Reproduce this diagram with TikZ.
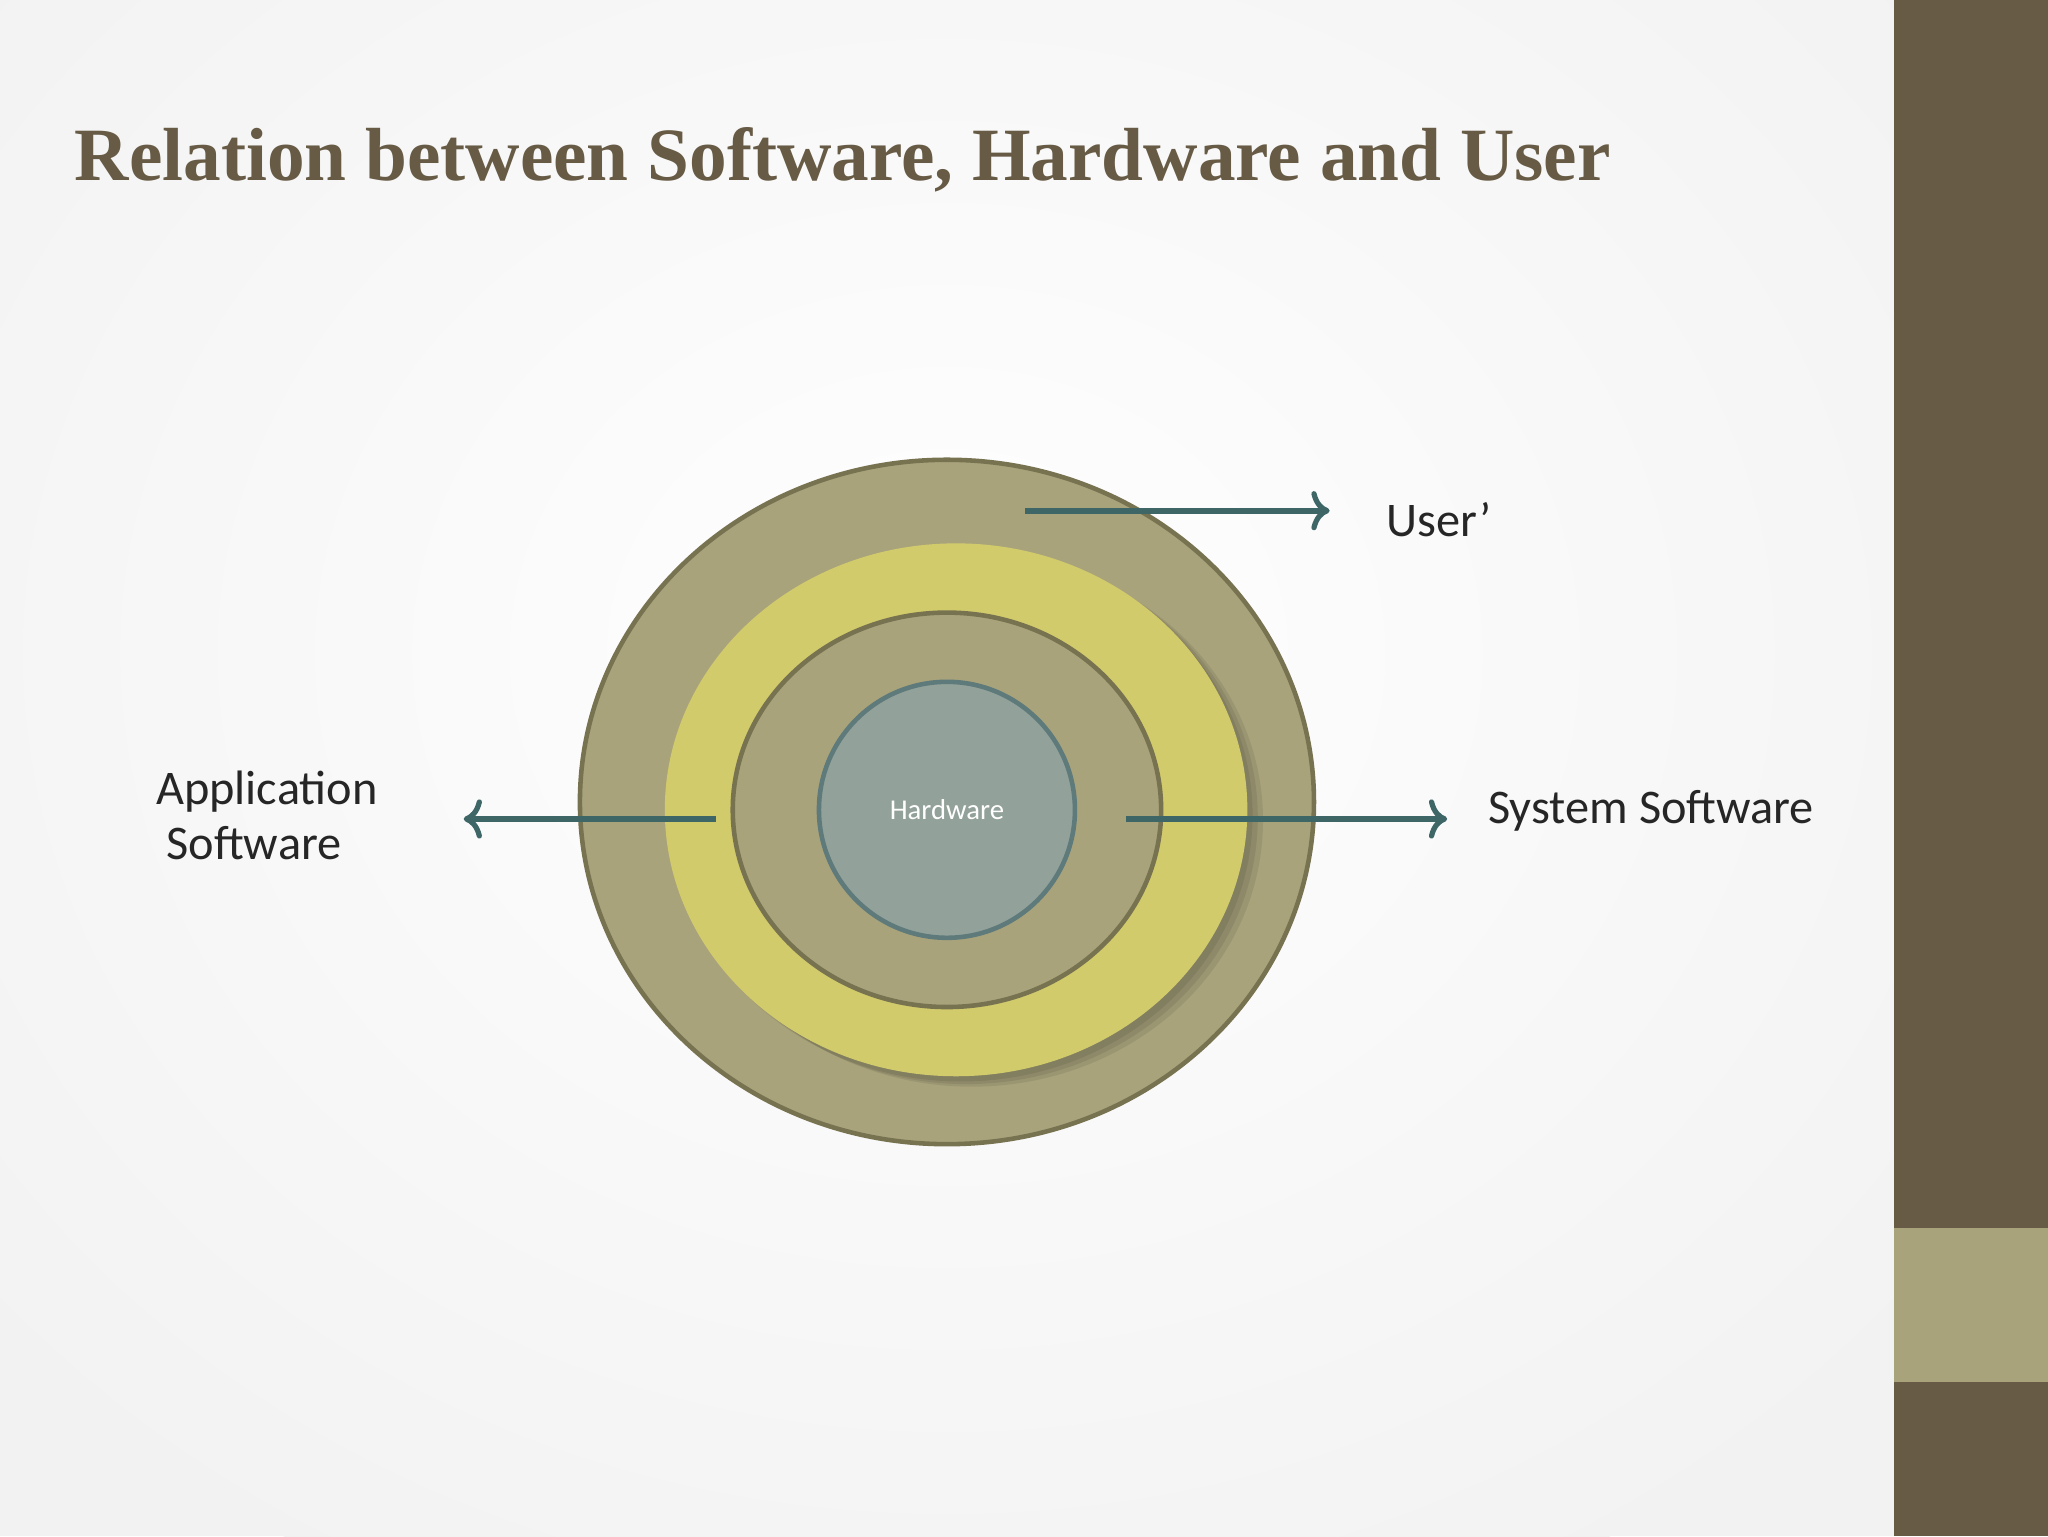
\documentclass[tikz,border=0pt]{standalone}
\usepackage{fontspec}
\setmainfont{Carlito}
\newfontfamily\titlefont{Liberation Serif}
\usetikzlibrary{arrows.meta,shapes.geometric}
\definecolor{brownbar}{HTML}{675B45}
\definecolor{tanfill}{HTML}{A9A37C}
\definecolor{tanline}{HTML}{777350}
\definecolor{yel}{HTML}{D1CB6C}
\definecolor{hw}{HTML}{92A19A}
\definecolor{hwline}{HTML}{5E7A7A}
\definecolor{arr}{HTML}{3E6667}
\definecolor{txt}{HTML}{262626}
\tikzset{ring/.style={draw=tanline,line width=3.5pt},
 shad/.style={fill=black,opacity=0.08,ellipse,minimum width=446pt,minimum height=408pt,inner sep=0},
 conn/.style={draw=arr,line width=4.5pt,-{To[length=14pt,width=30pt,line width=4pt]}},
 lbl/.style={text=txt,font=\fontsize{37}{44}\selectfont,align=left}}
\begin{document}
\begin{tikzpicture}[x=1pt,y=-1pt]
\useasboundingbox (0,0) rectangle (1568,1176);
\fill[gray!10] (0,0) rectangle (1450,1176);
\shade[inner color=white,outer color=gray!10] (725,500) ellipse (950 and 800);
\fill[brownbar] (1450,0) rectangle (1568,1176);
\fill[tanfill] (1450,940) rectangle (1568,1058);
\node[anchor=base west,inner sep=0,text=brownbar] (title) at (57,138)
 {\resizebox{1176pt}{!}{\titlefont\bfseries\fontsize{60}{70}\selectfont Relation between Software, Hardware and User}};
\node[ring,fill=tanfill,ellipse,minimum width=562pt,minimum height=524pt,inner sep=0] (outer) at (725,614) {};
\node[shad] at (736,624) {};
\node[shad] at (740,626) {};
\node[shad] at (744,628) {};
\node[fill=yel,ellipse,minimum width=446pt,minimum height=408pt,inner sep=0] (yellow) at (732,620) {};
\node[ring,fill=tanfill,ellipse,minimum width=328pt,minimum height=302pt,inner sep=0] (inner) at (725,620) {};
\node[draw=hwline,line width=3.5pt,fill=hw,circle,minimum size=196pt,inner sep=0,text=white,font=\fontsize{22}{26}\selectfont] (hw) at (725,620) {Hardware};
\coordinate (u0) at (785,391); \coordinate (u1) at (1018,391);
\coordinate (a0) at (548,627); \coordinate (a1) at (355,627);
\coordinate (s0) at (862,627); \coordinate (s1) at (1108,627);
\draw[conn] (u0) -- (u1);
\draw[conn] (a0) -- (a1);
\draw[conn] (s0) -- (s1);
\node[lbl,anchor=west] (user) at (1058,398) {User’};
\node[lbl,anchor=west,align=left] (app) at (116,624) {Application\\[-2pt]\hspace*{8pt}Software};
\node[lbl,anchor=west] (sys) at (1136,621) {System Software};
\end{tikzpicture}
\end{document}
